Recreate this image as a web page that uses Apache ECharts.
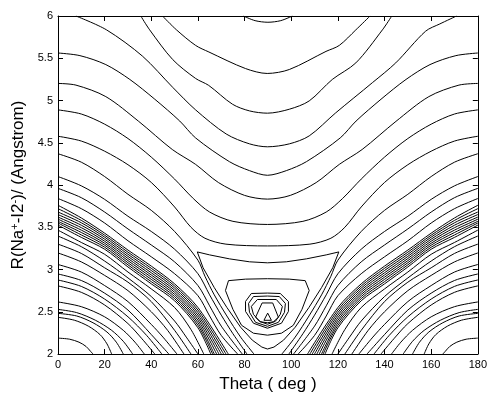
<!DOCTYPE html>
<html>
<head>
<meta charset="utf-8">
<script src="https://cdn.jsdelivr.net/npm/echarts@6/dist/echarts.min.js"></script>
<style>
  html, body { margin: 0; padding: 0; background: #fff; }
  #chart { width: 490px; height: 398px; }
</style>
</head>
<body>
<div id="chart"></div>
<script>
// contour lines of the upper region: [theta (deg), R (Angstrom)]
const upperLines = [
  [[79.5, 6], [84.5, 5.945], [90, 5.926], [95.5, 5.945], [100.5, 6]],
  [[44.8, 6], [50.8, 5.836], [59, 5.652], [64.7, 5.574], [80.4, 5.378], [89.7, 5.32], [99.2, 5.367], [114.9, 5.581], [120.6, 5.652], [127.7, 5.836], [133.8, 6]],
  [[35.5, 6], [39.3, 5.836], [49.2, 5.484], [59, 5.261], [64.6, 5.179], [74.8, 4.956], [82.1, 4.877], [89.8, 4.85], [99.2, 4.897], [107.7, 4.995], [117.6, 5.249], [127.7, 5.445], [139.1, 5.836], [143.1, 6]],
  [[7.7, 6], [20.8, 5.836], [36.3, 5.523], [49.2, 5.155], [59, 4.889], [72.1, 4.604], [82.1, 4.487], [89.8, 4.452], [99.2, 4.487], [107.7, 4.581], [118.9, 4.85], [134.8, 5.211], [144.8, 5.445], [157.6, 5.82], [163.7, 5.906], [170.9, 6]],
  [[0, 5.562], [9.4, 5.531], [20.5, 5.425], [30.8, 5.249], [41.5, 5.015], [52.2, 4.757], [59, 4.557], [73.5, 4.276], [82.1, 4.17], [89.8, 4.115], [97.9, 4.17], [106.5, 4.276], [121, 4.557], [127.8, 4.757], [138.5, 5.015], [149.2, 5.249], [159.5, 5.425], [170.6, 5.531], [180, 5.562]],
  [[0, 5.202], [7.7, 5.182], [20.5, 5.046], [34.6, 4.753], [49, 4.42], [59, 4.244], [68.8, 4.029], [80, 3.877], [89.8, 3.833], [99.6, 3.877], [110.7, 4.029], [120.6, 4.244], [130.4, 4.42], [144.9, 4.753], [159, 5.046], [171.9, 5.182], [180, 5.202]],
  [[0, 4.889], [10, 4.84], [20, 4.72], [30, 4.55], [40, 4.33], [50, 4.07], [58, 3.84], [65, 3.68], [75, 3.57], [89.8, 3.533], [105, 3.57], [115, 3.68], [122, 3.84], [130, 4.07], [140, 4.33], [150, 4.55], [160, 4.72], [170, 4.84], [180, 4.889]],
  [[0, 4.577], [10, 4.52], [20, 4.40], [30, 4.24], [40, 4.03], [50, 3.74], [57, 3.50], [63, 3.37], [72, 3.30], [89.8, 3.279], [108, 3.30], [117, 3.37], [123, 3.50], [130, 3.74], [140, 4.03], [150, 4.24], [160, 4.40], [170, 4.52], [180, 4.577]]
];

// lower lines running from the side edges down to R = 2 (same R levels on both sides)
const lowR = [
  [4.37, 4.27, 4.10, 3.89, 3.70, 3.45, 3.11, 2.92, 2.70, 2.45, 2.20, 2],
  [4.10, 3.99, 3.83, 3.63, 3.45, 3.24, 2.95, 2.70, 2.46, 2.24, 2],
  [3.96, 3.85, 3.68, 3.48, 3.29, 3.09, 2.81, 2.57, 2.33, 2],
  [3.84, 3.72, 3.55, 3.34, 3.15, 2.95, 2.69, 2.45, 2.22, 2],
  [3.76, 3.61, 3.43, 3.23, 3.04, 2.83, 2.55, 2],
  [3.72, 3.581, 3.406, 3.205, 3.014, 2.805, 2.52, 2],
  [3.68, 3.553, 3.383, 3.18, 2.988, 2.78, 2.49, 2],
  [3.65, 3.524, 3.359, 3.155, 2.961, 2.755, 2.46, 2],
  [3.62, 3.495, 3.335, 3.13, 2.935, 2.73, 2.43, 2],
  [3.595, 3.466, 3.311, 3.105, 2.909, 2.705, 2.40, 2],
  [3.57, 3.438, 3.288, 3.08, 2.883, 2.68, 2.37, 2],
  [3.55, 3.409, 3.264, 3.055, 2.856, 2.655, 2.34, 2],
  [3.525, 3.38, 3.24, 3.03, 2.83, 2.63, 2.31, 2],
  [3.466, 3.32, 3.18, 2.97, 2.77, 2.55, 2.29, 2],
  [3.396, 3.27, 3.10, 2.90, 2.68, 2.39, 2.20, 2],
  [3.30, 3.19, 3.02, 2.85, 2.62, 2.28, 2],
  [3.196, 3.09, 2.93, 2.75, 2.50, 2.28, 2],
  [3.059, 2.97, 2.81, 2.62, 2.35, 2.20, 2],
  [2.947, 2.87, 2.72, 2.52, 2.23, 2],
  [2.876, 2.80, 2.65, 2.44, 2.22, 2],
  [2.806, 2.73, 2.58, 2.36, 2.18, 2],
  [2.616, 2.56, 2.44, 2.28, 2.14, 2],
  [2.528, 2.49, 2.40, 2.28, 2.15, 2],
  [2.481, 2.45, 2.37, 2.26, 2.14, 2],
  [2.434, 2.40, 2.33, 2.23, 2.12, 2],
  [2.188, 2.175, 2.14, 2.09, 2.03, 2]
];
const lowThetaLeft = [
  [0, 10, 20, 30, 40, 50, 60, 63, 67, 72.4, 78.3, 84],
  [0, 10, 20, 30, 40, 50, 60, 65, 70, 75, 81],
  [0, 10, 20, 30, 40, 50, 60, 65, 70, 79],
  [0, 10, 20, 30, 40, 50, 60, 65, 70, 77],
  [0, 10, 20, 30, 40, 50, 60, 73],
  [0, 10, 20, 30, 40, 50, 60, 72],
  [0, 10, 20, 30, 40, 50, 60, 71],
  [0, 10, 20, 30, 40, 50, 60, 70],
  [0, 10, 20, 30, 40, 50, 60, 69],
  [0, 10, 20, 30, 40, 50, 60, 68],
  [0, 10, 20, 30, 40, 50, 60, 67],
  [0, 10, 20, 30, 40, 50, 60, 66.3],
  [0, 10, 20, 30, 40, 50, 60, 65.5],
  [0, 10, 20, 30, 40, 50, 57, 62.5],
  [0, 10, 20, 30, 40, 50, 55, 60],
  [0, 10, 20, 30, 40, 50, 57],
  [0, 10, 20, 30, 40, 47, 54],
  [0, 10, 20, 30, 40, 45, 51],
  [0, 10, 20, 30, 40, 47.5],
  [0, 10, 20, 30, 38, 44.5],
  [0, 10, 20, 30, 36, 41.5],
  [0, 10, 20, 28, 33, 37],
  [0, 8, 16, 23, 28, 32],
  [0, 8, 15, 21, 25, 28],
  [0, 7, 13, 18, 21, 23],
  [0, 5, 9, 12, 14, 15]
];
const lowThetaRight = [
  [180, 170, 160, 150, 140, 130, 120, 117, 113, 107.6, 101.7, 96],
  [180, 170, 160, 150, 140, 130, 120, 115, 110, 105, 99],
  [180, 170, 160, 150, 140, 130, 120, 115, 110, 101],
  [180, 170, 160, 150, 140, 130, 120, 115, 110, 103],
  [180, 170, 160, 150, 140, 130, 120, 107],
  [180, 170, 160, 150, 140, 130, 120, 108],
  [180, 170, 160, 150, 140, 130, 120, 109],
  [180, 170, 160, 150, 140, 130, 120, 110],
  [180, 170, 160, 150, 140, 130, 120, 111],
  [180, 170, 160, 150, 140, 130, 120, 112],
  [180, 170, 160, 150, 140, 130, 120, 113],
  [180, 170, 160, 150, 140, 130, 120, 113.7],
  [180, 170, 160, 150, 140, 130, 120, 114.5],
  [180, 170, 160, 150, 140, 130, 123, 117.5],
  [180, 170, 160, 150, 140, 130, 125, 120],
  [180, 170, 160, 150, 140, 130, 123],
  [180, 170, 160, 150, 140, 133, 126],
  [180, 170, 160, 150, 140, 135, 129],
  [180, 170, 160, 150, 140, 132.5],
  [180, 170, 160, 150, 142, 135.5],
  [180, 170, 160, 150, 144, 138.5],
  [180, 170, 160, 152, 147, 143],
  [180, 172, 164, 157, 152, 148],
  [180, 172, 165, 159, 155, 152],
  [180, 173, 167, 162, 159, 157],
  [180, 175, 171, 168, 166, 165]
];

// closed contours round the well near (90, 2.45)
const wellLines = [
  [[59.73, 3.208], [65.0, 3.173], [73.5, 3.126], [82.1, 3.091], [89.8, 3.079], [97.9, 3.091], [106.5, 3.126], [115.0, 3.173], [120.4, 3.208],
   [117.8, 3.021], [113.0, 2.786], [107.6, 2.551], [101.7, 2.317], [96.7, 2.164], [92.6, 2.082], [89.8, 2.059], [87.4, 2.082], [83.3, 2.164],
   [78.3, 2.317], [72.4, 2.551], [67.0, 2.786], [62.2, 3.021], [59.73, 3.208]],
  [[73.1, 2.868], [80.4, 2.886], [89.8, 2.891], [99.2, 2.886], [106.0, 2.868], [107.7, 2.751], [104.6, 2.528], [100.9, 2.34], [95.8, 2.246],
   [89.8, 2.223], [83.8, 2.246], [78.7, 2.34], [75.0, 2.528], [71.8, 2.751], [73.1, 2.868]],
  [[82.9, 2.716], [89.8, 2.721], [95.3, 2.716], [98.8, 2.622], [98.8, 2.504], [95.8, 2.364], [89.8, 2.305], [83.8, 2.364], [80.4, 2.504], [80.4, 2.622], [82.9, 2.716]],
  [[83.8, 2.68], [89.8, 2.686], [94.9, 2.68], [97.5, 2.598], [97.1, 2.493], [94.5, 2.375], [89.8, 2.328], [84.7, 2.375], [82.1, 2.493], [81.7, 2.598], [83.8, 2.68]],
  [[85.5, 2.645], [93.6, 2.645], [96.2, 2.563], [95.3, 2.469], [93.2, 2.387], [89.8, 2.352], [86.4, 2.387], [83.8, 2.469], [82.9, 2.563], [85.5, 2.645]],
  [[87.5, 2.604], [92.05, 2.604], [94.5, 2.434], [92.35, 2.381], [89.8, 2.37], [86.8, 2.381], [84.7, 2.434], [87.5, 2.604]],
  [[89.9, 2.484], [91.5, 2.399], [88.3, 2.399], [89.9, 2.484]]
];

const chart = echarts.init(document.getElementById('chart'));
const font = 'Liberation Sans, Arial, Helvetica, sans-serif';

const contour = (points, smooth) => ({
  type: 'line',
  data: points,
  symbol: 'none',
  smooth: smooth,
  silent: true,
  lineStyle: { color: '#000', width: 1 },
});

const series = [];
upperLines.forEach((l) => series.push(contour(l, 0.3)));
lowR.forEach((rs, i) => {
  series.push(contour(lowThetaLeft[i].map((t, j) => [t, rs[j]]), 0.3));
  series.push(contour(lowThetaRight[i].map((t, j) => [t, rs[j]]), 0.3));
});
wellLines.forEach((l) => series.push(contour(l, false)));

const tick = { show: true, inside: true, length: 5, lineStyle: { color: '#000', width: 1 } };
const line = { show: true, onZero: false, lineStyle: { color: '#000', width: 1 } };

chart.setOption({
  animation: false,
  backgroundColor: '#fff',
  grid: { left: 58, right: 11, top: 16, bottom: 41 },
  xAxis: [
    {
      type: 'value', min: 0, max: 180, interval: 20,
      axisLine: line, axisTick: tick, splitLine: { show: false },
      axisLabel: { color: '#000', fontSize: 11, fontFamily: font, margin: 5 },
      name: 'Theta ( deg )', nameLocation: 'middle', nameGap: 22,
      nameTextStyle: { color: '#000', fontSize: 17, fontFamily: font },
    },
    {
      type: 'value', position: 'top', min: 0, max: 180, interval: 20,
      axisLine: line, axisTick: tick, axisLabel: { show: false }, splitLine: { show: false },
    },
  ],
  yAxis: [
    {
      type: 'value', min: 2, max: 6, interval: 0.5,
      axisLine: line, axisTick: tick, splitLine: { show: false },
      axisLabel: { color: '#000', fontSize: 11, fontFamily: font, margin: 5 },
      name: 'R(Na{s|+}-I2{s|-})/ (Angstrom)', nameLocation: 'middle', nameGap: 21,
      nameTextStyle: {
        color: '#000', fontSize: 17, fontFamily: font,
        rich: { s: { fontSize: 11, fontFamily: font, color: '#000', verticalAlign: 'top', lineHeight: 12 } },
      },
    },
    {
      type: 'value', position: 'right', min: 2, max: 6, interval: 0.5,
      axisLine: line, axisTick: tick, axisLabel: { show: false }, splitLine: { show: false },
    },
  ],
  series: series,
});
</script>
</body>
</html>
